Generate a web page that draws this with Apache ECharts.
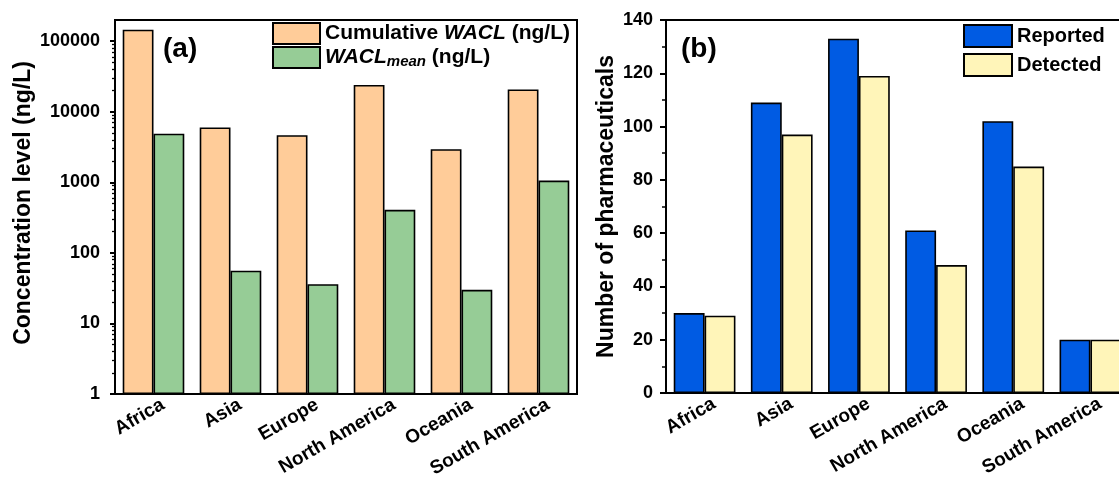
<!DOCTYPE html>
<html>
<head>
<meta charset="utf-8">
<script src="https://cdn.jsdelivr.net/npm/echarts@6/dist/echarts.min.js"></script>
<style>
html,body{margin:0;padding:0;background:#fff;}
#c{width:1119px;height:477px;}
</style>
</head>
<body>
<div id="c"></div>
<script>
// ---- data ----
const categories = ['Africa', 'Asia', 'Europe', 'North America', 'Oceania', 'South America'];
const cumulativeWACL = [146000, 6000, 4650, 24000, 2950, 20700];
const meanWACL = [4900, 56, 36, 408, 30, 1060];
const reported = [30, 109, 133, 61, 102, 20];
const detected = [29, 97, 119, 48, 85, 20];
const logTickValues = [1, 10, 100, 1000, 10000, 100000];
const logMinorTickValues = [
  2, 3, 4, 5, 6, 7, 8, 9,
  20, 30, 40, 50, 60, 70, 80, 90,
  200, 300, 400, 500, 600, 700, 800, 900,
  2000, 3000, 4000, 5000, 6000, 7000, 8000, 9000,
  20000, 30000, 40000, 50000, 60000, 70000, 80000, 90000
];
const LOG_MIN = 1;
const LOG_MAX = 200000;

const FONT = '"Liberation Sans", Arial, sans-serif';
const C_ORANGE = '#FFCC99';
const C_GREEN = '#96CC96';
const C_BLUE = '#005BE3';
const C_YELLOW = '#FFF5B9';

const barBorder = { borderColor: '#000', borderWidth: 1.6 };

const xLabel = {
  rotate: 30,
  fontFamily: FONT,
  fontWeight: 'bold',
  fontSize: 19,
  color: '#000',
  margin: 15,
  padding: [0, -11, 0, 0],
  interval: 0
};

const chart = echarts.init(document.getElementById('c'), null, { renderer: 'canvas' });

const logMaxExp = Math.log10(LOG_MAX);

chart.setOption({
  backgroundColor: '#fff',
  animation: false,
  textStyle: { fontFamily: FONT },
  title: [
    { text: '(a)', left: 163, top: 35, padding: 0,
      textStyle: { fontFamily: FONT, fontWeight: 'bold', fontSize: 28, color: '#000' } },
    { text: '(b)', left: 681, top: 35, padding: 0,
      textStyle: { fontFamily: FONT, fontWeight: 'bold', fontSize: 28, color: '#000' } }
  ],
  legend: [
    {
      data: ['cum', 'mean'],
      orient: 'vertical',
      left: 272, top: 22,
      itemWidth: 47, itemHeight: 21, itemGap: 1,
      icon: 'rect',
      padding: 0,
      formatter: function (n) {
        return n === 'cum'
          ? '{n|Cumulative }{i|WACL}{n| (ng/L)}'
          : '{i|WACL}{s|mean}{n| (ng/L)}';
      },
      textStyle: {
        color: '#000',
        rich: {
          n: { fontFamily: FONT, fontWeight: 'bold', fontSize: 21, color: '#000', lineHeight: 24 },
          i: { fontFamily: FONT, fontWeight: 'bold', fontStyle: 'italic', fontSize: 21, color: '#000', lineHeight: 24 },
          s: { fontFamily: FONT, fontWeight: 'bold', fontStyle: 'italic', fontSize: 15, color: '#000', lineHeight: 12, verticalAlign: 'bottom' }
        }
      }
    },
    {
      data: ['Reported', 'Detected'],
      orient: 'vertical',
      left: 963, top: 24,
      itemWidth: 48, itemHeight: 22, itemGap: 5,
      icon: 'rect',
      padding: 0,
      textStyle: { fontFamily: FONT, fontWeight: 'bold', fontSize: 20, color: '#000' }
    }
  ],
  grid: [
    { left: 115, top: 20, width: 462, height: 374, show: true, borderColor: '#000', borderWidth: 2,
      containLabel: false, outerBoundsMode: 'none' },
    { left: 666, top: 20, width: 463, height: 373, show: true, borderColor: '#000', borderWidth: 2,
      containLabel: false, outerBoundsMode: 'none' }
  ],
  xAxis: [
    {
      type: 'category', gridIndex: 0, data: categories,
      axisLine: { lineStyle: { color: '#000', width: 2 } },
      axisTick: { show: false },
      axisLabel: xLabel
    },
    {
      type: 'category', gridIndex: 1, data: categories,
      axisLine: { lineStyle: { color: '#000', width: 2 } },
      axisTick: { show: false },
      axisLabel: xLabel
    }
  ],
  yAxis: [
    {
      type: 'log', logBase: 10, gridIndex: 0, min: LOG_MIN, max: LOG_MAX,
      name: 'Concentration level (ng/L)',
      nameLocation: 'middle', nameGap: 80,
      nameTextStyle: { fontFamily: FONT, fontWeight: 'bold', fontSize: 23, color: '#000', padding: [0, 0, 0, 8] },
      axisLine: { show: true, lineStyle: { color: '#000', width: 2 } },
      axisTick: { show: false },
      axisLabel: {
        fontFamily: FONT, fontWeight: 'bold', fontSize: 18, color: '#000', margin: 15,
        showMaxLabel: false,
        formatter: function (v) { return String(Math.round(v)); }
      },
      splitLine: { show: false }
    },
    {
      // major tick marks of the log axis, drawn on a linear axis in log10 space
      type: 'value', gridIndex: 0, min: Math.log10(LOG_MIN), max: logMaxExp, position: 'left', offset: 0,
      axisLine: { show: false },
      axisTick: { show: true, length: 5, lineStyle: { color: '#000', width: 2 },
        customValues: logTickValues.map(function (v) { return Math.log10(v); }) },
      axisLabel: { show: false },
      splitLine: { show: false }
    },
    {
      // minor tick marks of the log axis
      type: 'value', gridIndex: 0, min: Math.log10(LOG_MIN), max: logMaxExp, position: 'left', offset: 0,
      axisLine: { show: false },
      axisTick: { show: true, length: 3, lineStyle: { color: '#000', width: 1.3 },
        customValues: logMinorTickValues.map(function (v) { return Math.log10(v); }) },
      axisLabel: { show: false },
      splitLine: { show: false }
    },
    {
      type: 'value', gridIndex: 1, min: 0, max: 140, interval: 20,
      name: 'Number of pharmaceuticals',
      nameLocation: 'middle', nameGap: 48,
      nameTextStyle: { fontFamily: FONT, fontWeight: 'bold', fontSize: 23, color: '#000' },
      axisLine: { show: true, lineStyle: { color: '#000', width: 2 } },
      axisTick: { show: true, length: 6, lineStyle: { color: '#000', width: 2 } },
      minorTick: { show: true, splitNumber: 2, length: 4, lineStyle: { color: '#000', width: 1.5 } },
      axisLabel: { fontFamily: FONT, fontWeight: 'bold', fontSize: 18, color: '#000', margin: 13 },
      splitLine: { show: false }
    }
  ],
  series: [
    { name: 'cum', type: 'bar', xAxisIndex: 0, yAxisIndex: 0, data: cumulativeWACL,
      barWidth: '40%', barGap: '0%', itemStyle: Object.assign({ color: C_ORANGE }, barBorder) },
    { name: 'mean', type: 'bar', xAxisIndex: 0, yAxisIndex: 0, data: meanWACL,
      barWidth: '40%', barGap: '0%', itemStyle: Object.assign({ color: C_GREEN }, barBorder) },
    { name: 'Reported', type: 'bar', xAxisIndex: 1, yAxisIndex: 3, data: reported,
      barWidth: '40%', barGap: '0%', itemStyle: Object.assign({ color: C_BLUE }, barBorder) },
    { name: 'Detected', type: 'bar', xAxisIndex: 1, yAxisIndex: 3, data: detected,
      barWidth: '40%', barGap: '0%', itemStyle: Object.assign({ color: C_YELLOW }, barBorder) }
  ]
});
</script>
</body>
</html>
